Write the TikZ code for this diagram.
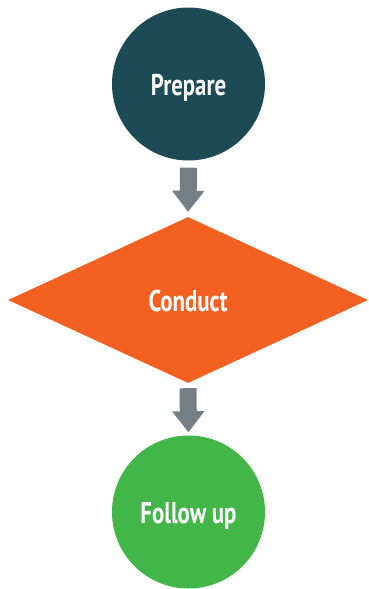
\documentclass[tikz,border=0pt]{standalone}
\usepackage{fontspec}
\setmainfont{PT Sans}[FakeStretch=0.76]
\usetikzlibrary{shapes.geometric,arrows.meta}
\definecolor{teal}{HTML}{1C4B56}
\definecolor{orng}{HTML}{F26122}
\definecolor{grn}{HTML}{43B649}
\definecolor{arrgray}{HTML}{737E86}
\tikzset{
  lbl/.style={text=white,font=\fontsize{30}{34}\selectfont\bfseries,text height=24pt,text depth=2pt},
  roundstep/.style={circle,draw=none,minimum size=153pt,inner sep=0pt,lbl},
  decide/.style={diamond,draw=none,minimum width=360pt,minimum height=166pt,inner sep=0pt,lbl},
  blockarrow/.style={draw=arrgray,line width=17pt,-{Triangle[length=21pt,width=31pt]}}
}
\begin{document}
\begin{tikzpicture}[x=1pt,y=-1pt]
\useasboundingbox (0,0) rectangle (368,589);
\node[roundstep,fill=teal] (prep) at (188.5,84) {Prepare};
\node[decide,fill=orng] (cond) at (188,300) {Conduct};
\node[roundstep,fill=grn] (foll) at (188.5,512) {Follow up};
\draw[blockarrow,shorten <=7pt,shorten >=5pt] (prep.south) -- (cond.north);
\draw[blockarrow,shorten <=5pt,shorten >=3pt] (cond.south) -- (foll.north);
\end{tikzpicture}
\end{document}
